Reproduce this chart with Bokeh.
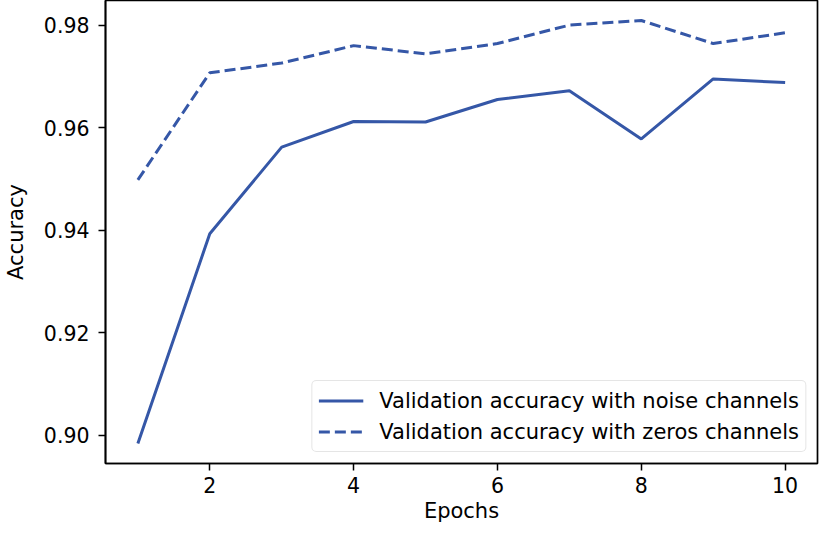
from bokeh.plotting import figure
from bokeh.models import FixedTicker, Range1d, Legend, LegendItem, NumeralTickFormatter
from bokeh.embed import file_html
from bokeh.resources import INLINE

epochs = [1, 2, 3, 4, 5, 6, 7, 8, 9, 10]
noise_acc = [0.8984, 0.9393, 0.9562, 0.9612, 0.9611, 0.9655, 0.9672, 0.9578, 0.9695, 0.9688]
zeros_acc = [0.9498, 0.9707, 0.9726, 0.9760, 0.9744, 0.9764, 0.9800, 0.9809, 0.9764, 0.9785]
x_ticks = [2, 4, 6, 8, 10]
y_ticks = [0.90, 0.92, 0.94, 0.96, 0.98]
noise_label = "Validation accuracy with noise channels"
zeros_label = "Validation accuracy with zeros channels"

FONT = "DejaVu Sans"
FS = "20.5px"
BLUE = "#3557a7"

p = figure(width=820, height=529, output_backend="svg", toolbar_location=None,
           x_range=Range1d(0.55, 10.45), y_range=Range1d(0.8945, 0.9848),
           min_border_left=102, min_border_right=3, min_border_top=0, min_border_bottom=66)

r1 = p.line(epochs, noise_acc, line_color=BLUE, line_width=3)
r2 = p.line(epochs, zeros_acc, line_color=BLUE, line_width=3, line_dash="11 5")

p.xgrid.visible = False
p.ygrid.visible = False
p.outline_line_color = "black"
p.outline_line_width = 1.7
p.background_fill_color = "white"
p.border_fill_color = "white"

for ax in (p.xaxis[0], p.yaxis[0]):
    ax.axis_line_color = "black"
    ax.axis_line_width = 1.7
    ax.major_tick_line_color = "black"
    ax.major_tick_line_width = 1.5
    ax.major_tick_out = 7
    ax.major_tick_in = 0
    ax.minor_tick_line_color = None
    ax.major_label_text_font = FONT
    ax.major_label_text_font_size = FS
    ax.major_label_text_color = "black"
    ax.axis_label_text_font = FONT
    ax.axis_label_text_font_size = "21px"
    ax.axis_label_text_font_style = "normal"
    ax.axis_label_text_color = "black"

p.xaxis.ticker = FixedTicker(ticks=x_ticks)
p.yaxis.ticker = FixedTicker(ticks=y_ticks)
p.yaxis.formatter = NumeralTickFormatter(format="0.00")
p.xaxis.axis_label = "Epochs"
p.yaxis.axis_label = "Accuracy"
p.xaxis.major_label_standoff = 6
p.yaxis.major_label_standoff = 9
p.xaxis.axis_label_standoff = 3
p.yaxis.axis_label_standoff = 13

legend = Legend(items=[LegendItem(label=noise_label, renderers=[r1]),
                       LegendItem(label=zeros_label, renderers=[r2])],
                location="bottom_right")
legend.label_text_font = FONT
legend.label_text_font_size = "21px"
legend.label_text_color = "black"
legend.border_line_color = "#cccccc"
legend.border_line_width = 1.3
legend.background_fill_alpha = 0.85
legend.glyph_width = 45
legend.glyph_height = 27
legend.label_height = 27
legend.spacing = 4
legend.padding = 6
legend.margin = 11
legend.label_standoff = 16
if "border_radius" in Legend.properties():
    legend.border_radius = 5
p.add_layout(legend)

open("out.html", "w").write(file_html(p, INLINE))
